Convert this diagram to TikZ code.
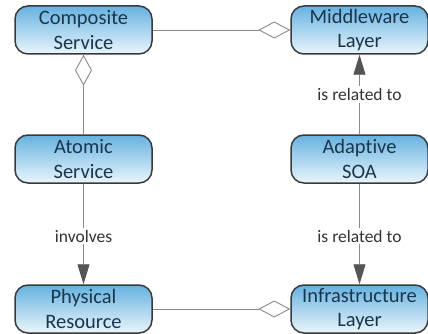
\documentclass[tikz,border=0pt]{standalone}
\usepackage{fontspec}
\setmainfont{Carlito}[Ligatures=NoCommon]
\usetikzlibrary{arrows.meta}
\definecolor{boxtop}{HTML}{66B2E0}
\definecolor{boxbot}{HTML}{EAF6FC}
\definecolor{boxline}{HTML}{3A3A3A}
\definecolor{boxtext}{HTML}{1B354A}
\definecolor{conn}{HTML}{8A8A8A}
\definecolor{tipfill}{HTML}{555555}
\begin{document}
\begin{tikzpicture}[x=1pt,y=-1pt,
  concept/.style={draw=boxline, line width=1.5pt, rounded corners=13pt,
    top color=boxtop, bottom color=boxbot, minimum width=137pt, minimum height=48pt,
    text=boxtext, font=\fontsize{20.5}{24.5}\selectfont, align=center, inner sep=0pt},
  link/.style={draw=conn, line width=0.9pt},
  agg/.style={link, {Diamond[open, length=31pt, width=17pt, fill=white, line width=0.9pt]}-},
  aggend/.style={link, -{Diamond[open, length=32pt, width=17pt, fill=white, line width=0.9pt]}},
  rel/.style={link, -{Triangle[length=20pt, width=12pt, fill=tipfill, color=tipfill]}},
  lbl/.style={fill=white, text=black!80, font=\fontsize{17.5}{20}\selectfont, inner sep=2pt}
]
\useasboundingbox (0,0) rectangle (428,334);

\node[concept] (comp)  at (83.5,30)  {Composite\\Service};
\node[concept] (mid)   at (359.5,30) {Middleware\\Layer};
\node[concept] (atom)  at (83.5,159) {Atomic\\Service};
\node[concept] (soa)   at (359.5,159) {Adaptive\\SOA};
\node[concept] (phys)  at (83.5,309) {Physical\\Resource};
\node[concept] (infra) at (359.5,309) {Infrastructure\\Layer};

% aggregation links
\draw[aggend] (comp) -- (mid);
\draw[aggend] (phys) -- (infra);
\draw[agg] (comp) -- (atom);

% directed relations with labels
\draw[rel] (soa) -- node[lbl, pos=0.5] (l1) {is related to} (mid);
\draw[rel] (soa) -- node[lbl, pos=0.52] (l2) {is related to} (infra);
\draw[rel] (atom) -- node[lbl, pos=0.52] (l3) {involves} (phys);
\end{tikzpicture}
\end{document}
